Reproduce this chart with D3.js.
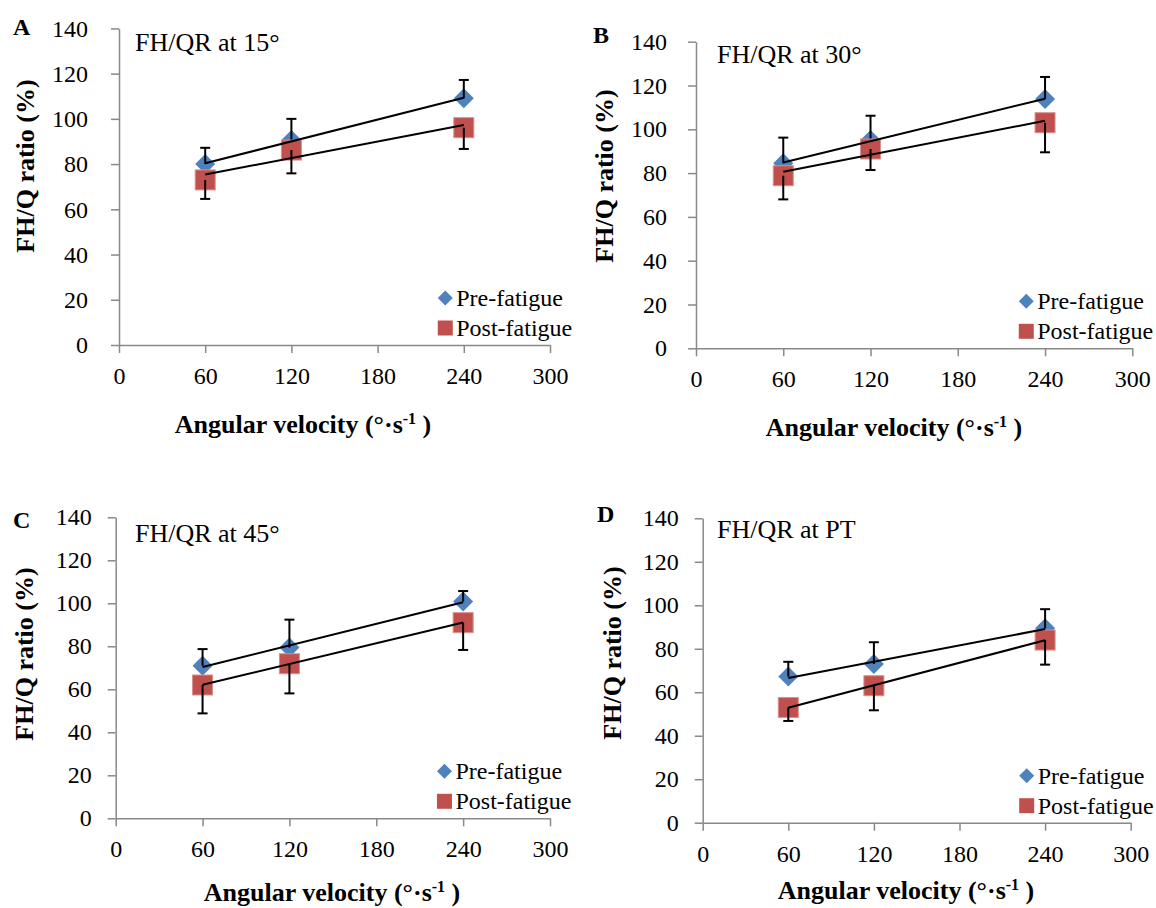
<!DOCTYPE html>
<html>
<head>
<meta charset="utf-8">
<script src="https://cdn.jsdelivr.net/npm/d3@7"></script>
<style>
  html, body { margin: 0; padding: 0; background: #fff; }
  svg { display: block; }
  text { font-family: "Liberation Serif", "Times New Roman", serif; fill: #000; }
</style>
</head>
<body>
<svg id="chart" width="1156" height="908"></svg>
<script>
// ---------------- data ----------------
const panelLetters = ["A", "B", "C", "D"];
const panelTitles = ["FH/QR at 15°", "FH/QR at 30°", "FH/QR at 45°", "FH/QR at PT"];
const velocities = [60, 120, 240];
const xTicks = [0, 60, 120, 180, 240, 300];
const yTicks = [0, 20, 40, 60, 80, 100, 120, 140];
const seriesNames = ["Pre-fatigue", "Post-fatigue"];

const preA = [80, 90.6, 109.1];
const preErrA = [7.2, 9.4, 8.1];
const postA = [73, 86.2, 96.1];
const postErrA = [8.4, 10.3, 9.4];

const preB = [84.5, 95.1, 113.8];
const preErrB = [11.7, 11.1, 10.1];
const postB = [78.8, 91, 103];
const postErrB = [10.8, 9.6, 13.5];

const preC = [71, 79.4, 100.8];
const preErrC = [7.7, 13, 4.9];
const postC = [62, 71.9, 91];
const postErrC = [13.2, 13.8, 12.7];

const preD = [67.2, 73, 89.4];
const preErrD = [6.8, 10, 8.8];
const postD = [53, 63, 84];
const postErrD = [6.2, 11.3, 11.3];

// ---------------- layout ----------------
const layout = [
  { left: 119, right: 550, top: 28.4, bottom: 345, tickGap: 31, letter: [13, 35], ytitle: [27, 166], xtitle: [303, 433], title: [135, 51] },
  { left: 696, right: 1132.3, top: 41.7, bottom: 348.3, tickGap: 29, letter: [593, 43], ytitle: [606, 176], xtitle: [894, 436], title: [717, 63] },
  { left: 115.7, right: 550, top: 517.3, bottom: 818.3, tickGap: 24, letter: [13, 528], ytitle: [26, 654], xtitle: [332, 901], title: [135, 542] },
  { left: 702.7, right: 1130.7, top: 518.3, bottom: 822.7, tickGap: 24, letter: [597, 522], ytitle: [614, 653], xtitle: [906, 899], title: [717, 538] }
];

const panelData = [
  { pre: preA, preErr: preErrA, post: postA, postErr: postErrA },
  { pre: preB, preErr: preErrB, post: postB, postErr: postErrB },
  { pre: preC, preErr: preErrC, post: postC, postErr: postErrC },
  { pre: preD, preErr: preErrD, post: postD, postErr: postErrD }
];

const blue = "#4F81BD";
const red = "#C0504D";
const axisGrey = "#898989";
const serif = '"Liberation Serif", "Times New Roman", serif';

const svg = d3.select("#chart");

function linFit(xs, ys) {
  const mx = d3.mean(xs), my = d3.mean(ys);
  let sxy = 0, sxx = 0;
  xs.forEach((x, i) => { sxy += (x - mx) * (ys[i] - my); sxx += (x - mx) * (x - mx); });
  const b = sxy / sxx;
  return x => my + b * (x - mx);
}

const diamond = s => d3.symbol().type(d3.symbolSquare).size(s);

panelData.forEach((pd, i) => {
  const L = layout[i];
  const g = svg.append("g");
  const x = d3.scaleLinear().domain([0, 300]).range([L.left, L.right]);
  const y = d3.scaleLinear().domain([0, 140]).range([L.bottom, L.top]);

  // axes
  const yAxis = d3.axisLeft(y).tickValues(yTicks).tickSizeOuter(0).tickSizeInner(8).tickPadding(L.tickGap - 8);
  const xAxis = d3.axisBottom(x).tickValues(xTicks).tickSizeOuter(0).tickSizeInner(8).tickPadding(14);

  const ya = g.append("g").attr("transform", `translate(${L.left},0)`).call(yAxis);
  const xa = g.append("g").attr("transform", `translate(0,${L.bottom})`).call(xAxis);
  [ya, xa].forEach(a => {
    a.attr("font-family", serif);
    a.select(".domain").attr("stroke", axisGrey).attr("stroke-width", 1.5);
    a.selectAll(".tick line").attr("stroke", axisGrey).attr("stroke-width", 1.5);
    a.selectAll(".tick text").style("font-family", serif).style("font-size", "24px").attr("fill", "#000");
  });

  const pts = (vals) => velocities.map((v, k) => ({ v, val: vals[k], k }));

  // markers: pre
  g.append("g").selectAll("path").data(pts(pd.pre)).join("path")
    .attr("d", diamond(200)())
    .attr("transform", d => `translate(${x(d.v)},${y(d.val)}) rotate(45)`)
    .attr("fill", blue);

  // pre error bars (upward)
  const eb = g.append("g").attr("stroke", "#000").attr("stroke-width", 2);
  pts(pd.pre).forEach(d => {
    const top = d.val + pd.preErr[d.k];
    eb.append("line").attr("x1", x(d.v)).attr("x2", x(d.v)).attr("y1", y(d.val)).attr("y2", y(top));
    eb.append("line").attr("x1", x(d.v) - 5).attr("x2", x(d.v) + 5).attr("y1", y(top)).attr("y2", y(top));
  });

  // markers: post
  g.append("g").selectAll("rect").data(pts(pd.post)).join("rect")
    .attr("x", d => x(d.v) - 10).attr("y", d => y(d.val) - 10)
    .attr("width", 20).attr("height", 20)
    .attr("fill", red).attr("stroke", "#D9908E").attr("stroke-width", 1);

  // post error bars (downward)
  const eb2 = g.append("g").attr("stroke", "#000").attr("stroke-width", 2);
  pts(pd.post).forEach(d => {
    const bot = d.val - pd.postErr[d.k];
    eb2.append("line").attr("x1", x(d.v)).attr("x2", x(d.v)).attr("y1", y(d.val)).attr("y2", y(bot));
    eb2.append("line").attr("x1", x(d.v) - 5).attr("x2", x(d.v) + 5).attr("y1", y(bot)).attr("y2", y(bot));
  });

  // linear trend lines
  [pd.pre, pd.post].forEach(vals => {
    const f = linFit(velocities, vals);
    const x0 = d3.min(velocities), x1 = d3.max(velocities);
    g.append("line")
      .attr("x1", x(x0)).attr("y1", y(f(x0)))
      .attr("x2", x(x1)).attr("y2", y(f(x1)))
      .attr("stroke", "#000").attr("stroke-width", 2);
  });

  // inner title
  g.append("text").attr("x", L.title[0]).attr("y", L.title[1])
    .style("font-size", "26px").text(panelTitles[i]);

  // legend
  const lx = L.left + 0.757 * (L.right - L.left);
  const ly1 = L.bottom - 47, ly2 = L.bottom - 17;
  g.append("path").attr("d", diamond(112)()).attr("transform", `translate(${lx},${ly1}) rotate(45)`).attr("fill", blue);
  g.append("rect").attr("x", lx - 7.5).attr("y", ly2 - 7.5).attr("width", 15).attr("height", 15).attr("fill", red);
  g.append("text").attr("x", lx + 11).attr("y", ly1 + 8).style("font-size", "24px").text(seriesNames[0]);
  g.append("text").attr("x", lx + 11).attr("y", ly2 + 8).style("font-size", "24px").text(seriesNames[1]);

  // panel letter
  g.append("text").attr("x", L.letter[0]).attr("y", L.letter[1])
    .style("font-size", "24px").style("font-weight", "bold").text(panelLetters[i]);

  // y title
  g.append("text")
    .attr("transform", `translate(${L.ytitle[0] + 7},${L.ytitle[1]}) rotate(-90)`)
    .attr("text-anchor", "middle")
    .style("font-size", "26px").style("font-weight", "bold")
    .text("FH/Q ratio (%)");

  // x title
  const xt = g.append("text").attr("x", L.xtitle[0]).attr("y", L.xtitle[1])
    .attr("text-anchor", "middle")
    .style("font-size", "26px").style("font-weight", "bold");
  xt.append("tspan").text("Angular velocity (°·s");
  xt.append("tspan").attr("dy", -9).style("font-size", "16px").text("-1");
  xt.append("tspan").attr("dy", 9).text(" )");
});
</script>
</body>
</html>
